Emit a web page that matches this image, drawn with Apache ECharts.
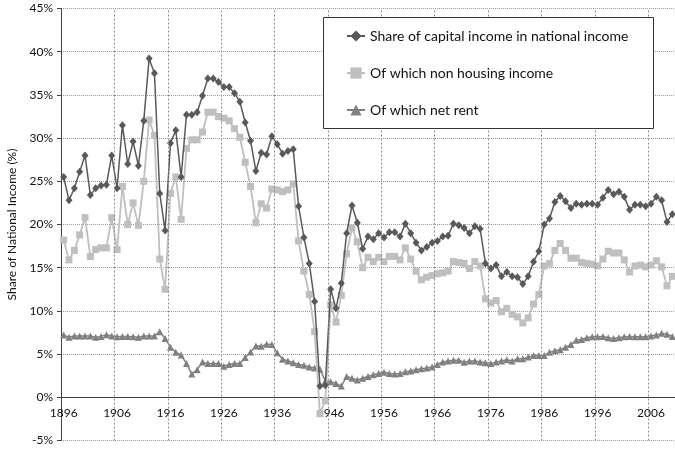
<!DOCTYPE html>
<html>
<head>
    <meta charset="utf-8">
    <title>Capital share</title>
    <script src="https://cdn.jsdelivr.net/npm/echarts@6/dist/echarts.min.js"></script>
    <style>
        html, body { margin: 0; padding: 0; background: #fff; }
        #chart { width: 675px; height: 452px; }
    </style>
</head>
<body>
<div id="chart"></div>
<script>
    // years 1896..2010
    var years = [];
    for (var y = 1896; y <= 2010; y++) years.push(String(y));

    var capitalShare = [
        25.5, 22.8, 24.2, 26.1, 28.0, 23.4, 24.2, 24.5, 24.6, 28.0,
        24.2, 31.5, 27.0, 29.6, 26.8, 32.0, 39.2, 37.5, 23.6, 19.3,
        29.4, 30.9, 25.5, 32.7, 32.7, 33.0, 34.9, 36.9, 36.9, 36.5,
        35.9, 35.9, 35.2, 34.2, 31.8, 29.7, 26.2, 28.3, 28.1, 30.2,
        29.3, 28.2, 28.5, 28.7, 22.1, 18.5, 15.5, 11.1, 1.3, 1.4,
        12.5, 10.3, 13.2, 19.0, 22.2, 20.2, 17.2, 18.6, 18.3, 19.0,
        18.5, 19.1, 19.1, 18.6, 20.1, 19.0, 17.9, 17.0, 17.4, 17.9,
        18.1, 18.6, 18.7, 20.1, 19.9, 19.6, 19.0, 19.8, 19.5, 15.5,
        14.9, 15.3, 14.0, 14.5, 14.0, 13.9, 13.1, 14.0, 15.7, 16.9,
        20.0, 20.7, 22.6, 23.3, 22.7, 21.9, 22.4, 22.3, 22.4, 22.4,
        22.3, 23.1, 24.0, 23.5, 23.8, 23.2, 21.7, 22.3, 22.3, 22.1,
        22.4, 23.2, 22.8, 20.3, 21.2
    ];

    var nonHousing = [
        18.2, 15.9, 17.0, 18.8, 20.8, 16.3, 17.1, 17.3, 17.3, 20.8,
        17.1, 24.4, 20.0, 22.5, 19.9, 25.0, 32.1, 30.3, 16.0, 12.5,
        23.6, 25.5, 20.6, 28.8, 29.8, 29.8, 30.7, 33.0, 33.0, 32.5,
        32.3, 32.0, 31.1, 30.1, 27.2, 24.4, 20.2, 22.4, 21.9, 24.1,
        24.0, 23.8, 24.0, 24.7, 18.1, 14.6, 11.9, 7.6, -1.9, -0.4,
        10.7, 8.7, 11.8, 16.6, 19.6, 18.0, 15.0, 16.2, 15.7, 16.2,
        15.7, 16.3, 16.3, 15.9, 17.3, 16.0, 14.6, 13.6, 13.9, 14.1,
        14.3, 14.4, 14.6, 15.7, 15.6, 15.5, 14.9, 15.7, 15.2, 11.4,
        10.9, 11.2, 9.9, 10.3, 9.6, 9.3, 8.6, 9.2, 10.8, 11.9,
        15.2, 15.5, 17.0, 17.8, 17.0, 16.1, 16.1, 15.6, 15.5, 15.4,
        15.2, 16.0, 16.9, 16.7, 16.7, 15.9, 14.5, 15.2, 15.3, 15.1,
        15.3, 15.8, 15.1, 12.9, 14.0
    ];

    var netRent = [
        7.2, 6.95, 7.1, 7.1, 7.1, 7.1, 6.95, 7.05, 7.25, 7.1,
        7.0, 7.05, 7.05, 7.0, 6.95, 7.1, 7.1, 7.1, 7.6, 6.8,
        5.8, 5.2, 4.9, 3.9, 2.7, 3.2, 4.1, 3.9, 3.9, 3.9,
        3.6, 3.8, 3.9, 3.9, 4.6, 5.25, 5.95, 5.9, 6.15, 6.1,
        5.15, 4.4, 4.2, 4.0, 3.8, 3.7, 3.5, 3.4, 3.25, 1.9,
        1.8, 1.6, 1.3, 2.4, 2.2, 2.0, 2.2, 2.4, 2.6, 2.75,
        2.9, 2.75, 2.7, 2.75, 2.95, 3.05, 3.2, 3.3, 3.4, 3.5,
        3.8, 4.1, 4.2, 4.3, 4.3, 4.05, 4.2, 4.2, 4.1, 4.0,
        3.9, 4.1, 4.2, 4.35, 4.2, 4.45, 4.45, 4.65, 4.85, 4.85,
        4.85, 5.2, 5.4, 5.5, 5.8, 6.1, 6.6, 6.7, 6.9, 7.0,
        7.0, 7.05, 6.9, 6.8, 6.9, 7.0, 7.05, 7.0, 7.0, 7.0,
        7.1, 7.2, 7.4, 7.3, 7.05
    ];

    var seriesNames = [
        'Share of capital income in national income',
        'Of which non housing income',
        'Of which net rent'
    ];

    var font = 'Lato, "Open Sans", sans-serif';
    var gridTop = 8.5, gridBottom = 11.5;
    // the category axis sits on the 0% line, one 5% step above the bottom (-5%)
    var zeroOffset = -(452 - gridTop - gridBottom) / 10;
    var gridDash = { color: '#9a9a9a', type: 'dotted', width: 1 };

    // decade boundaries (category index of 1906, 1916, ...) for the vertical grid
    var decadeLines = [];
    for (var i = 10; i < years.length; i += 10) decadeLines.push({ xAxis: i });

    var chart = echarts.init(document.getElementById('chart'), null, {renderer: 'canvas'});

    var option = {
        animation: false,
        backgroundColor: '#fff',
        grid: {
            left: 61, right: 0, top: gridTop, bottom: gridBottom,
            containLabel: false,
            outerBoundsMode: 'none'
        },
        // legend frame
        graphic: [{
            type: 'rect',
            left: 323, top: 17, z: 90,
            shape: { width: 330, height: 111 },
            style: { fill: '#fff', stroke: '#333', lineWidth: 1 }
        }],
        legend: {
            orient: 'vertical',
            left: 340,
            top: 23,
            padding: [6, 6, 6, 6],
            itemGap: 23,
            itemWidth: 18,
            itemHeight: 14,
            z: 100,
            textStyle: { fontFamily: font, fontSize: 14, color: '#111' },
            data: seriesNames
        },
        xAxis: [{
            type: 'category',
            data: years,
            boundaryGap: true,
            offset: zeroOffset,
            axisLine: { onZero: false, lineStyle: { color: '#404040', width: 1 } },
            axisTick: { interval: 9, length: 4, lineStyle: { color: '#404040' } },
            axisLabel: { interval: 9, fontFamily: font, fontSize: 12, color: '#111', margin: 10 },
            splitLine: { show: false }
        }, {
            // hidden helper axis: one unit per year, category boundaries fall on integers
            type: 'value',
            min: 0, max: years.length,
            position: 'top',
            show: false
        }],
        yAxis: {
            type: 'value',
            min: -5, max: 45, interval: 5,
            name: 'Share of National Income (%)',
            nameLocation: 'middle',
            nameGap: 32,
            nameTextStyle: { fontFamily: font, fontSize: 12, color: '#111' },
            axisLine: { show: true, lineStyle: { color: '#404040' } },
            axisTick: { show: true, length: 4, lineStyle: { color: '#404040' } },
            axisLabel: { formatter: '{value}%', fontFamily: font, fontSize: 12, color: '#111', margin: 8 },
            splitLine: { lineStyle: gridDash }
        },
        series: [
            {
                name: 'grid',
                type: 'line',
                xAxisIndex: 1,
                data: [[0, -5], [0, -5]],
                symbol: 'none',
                lineStyle: { width: 0, opacity: 0 },
                silent: true,
                z: 1,
                markLine: {
                    silent: true,
                    symbol: ['none', 'none'],
                    animation: false,
                    label: { show: false },
                    lineStyle: { color: '#8c8c8c', type: [2, 2], width: 1 },
                    data: decadeLines
                }
            },
            {
                name: seriesNames[0],
                type: 'line',
                data: capitalShare,
                color: '#595959',
                symbol: 'diamond',
                symbolSize: [7, 8],
                showAllSymbol: true,
                lineStyle: { width: 1.5 },
                z: 4
            },
            {
                name: seriesNames[1],
                type: 'line',
                data: nonHousing,
                color: '#bfbfbf',
                symbol: 'rect',
                symbolSize: 7,
                showAllSymbol: true,
                lineStyle: { width: 1.8 },
                z: 3
            },
            {
                name: seriesNames[2],
                type: 'line',
                data: netRent,
                color: '#808080',
                symbol: 'triangle',
                symbolSize: 7,
                showAllSymbol: true,
                lineStyle: { width: 1.5 },
                z: 2
            }
        ]
    };

    chart.setOption(option);
</script>
</body>
</html>
